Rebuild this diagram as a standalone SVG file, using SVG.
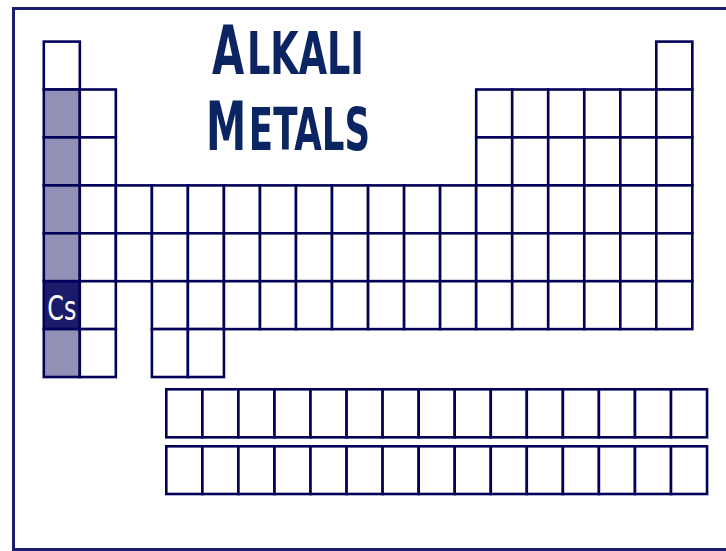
<svg xmlns="http://www.w3.org/2000/svg" width="726" height="551" viewBox="0 0 726 551">
<style>
.c{fill:#fff;stroke:#02025a;stroke-width:2.6}
.k{fill:#9191b5}
.cs{fill:#1b1b6b}
.t{font-family:"DejaVu Sans Condensed","DejaVu Sans",sans-serif;font-weight:bold;fill:#0b2462}
.sym{font-family:"DejaVu Sans Condensed","Liberation Sans",sans-serif;fill:#fff;font-size:34px}
</style>
<rect x="13.5" y="8.5" width="724" height="541" fill="#fff" stroke="#1c1c70" stroke-width="3"/>
<g id="title">
<text class="t" transform="translate(212,74) scale(0.69,1)"><tspan font-size="67">A</tspan><tspan font-size="59" dx="4">LKALI</tspan></text>
<text class="t" transform="translate(206,150) scale(0.67,1)"><tspan font-size="67">M</tspan><tspan font-size="59" dx="4">ETALS</tspan></text>
</g>
<g id="row1">
<g id="H"><rect class="c" x="43.8" y="41.6" width="36.03" height="47.92"/></g>
<g id="He"><rect class="c" x="656.3" y="41.6" width="36.03" height="47.92"/></g>
</g>
<g id="row2">
<g id="Li"><rect class="c k" x="43.8" y="89.5" width="36.03" height="47.92"/></g>
<g id="Be"><rect class="c" x="79.8" y="89.5" width="36.03" height="47.92"/></g>
<g id="B"><rect class="c" x="476.2" y="89.5" width="36.03" height="47.92"/></g>
<g id="C"><rect class="c" x="512.2" y="89.5" width="36.03" height="47.92"/></g>
<g id="N"><rect class="c" x="548.2" y="89.5" width="36.03" height="47.92"/></g>
<g id="O"><rect class="c" x="584.3" y="89.5" width="36.03" height="47.92"/></g>
<g id="F"><rect class="c" x="620.3" y="89.5" width="36.03" height="47.92"/></g>
<g id="Ne"><rect class="c" x="656.3" y="89.5" width="36.03" height="47.92"/></g>
</g>
<g id="row3">
<g id="Na"><rect class="c k" x="43.8" y="137.4" width="36.03" height="47.92"/></g>
<g id="Mg"><rect class="c" x="79.8" y="137.4" width="36.03" height="47.92"/></g>
<g id="Al"><rect class="c" x="476.2" y="137.4" width="36.03" height="47.92"/></g>
<g id="Si"><rect class="c" x="512.2" y="137.4" width="36.03" height="47.92"/></g>
<g id="P"><rect class="c" x="548.2" y="137.4" width="36.03" height="47.92"/></g>
<g id="S"><rect class="c" x="584.3" y="137.4" width="36.03" height="47.92"/></g>
<g id="Cl"><rect class="c" x="620.3" y="137.4" width="36.03" height="47.92"/></g>
<g id="Ar"><rect class="c" x="656.3" y="137.4" width="36.03" height="47.92"/></g>
</g>
<g id="row4">
<g id="K"><rect class="c k" x="43.8" y="185.4" width="36.03" height="47.92"/></g>
<g id="Ca"><rect class="c" x="79.8" y="185.4" width="36.03" height="47.92"/></g>
<g id="Sc"><rect class="c" x="115.9" y="185.4" width="36.03" height="47.92"/></g>
<g id="Ti"><rect class="c" x="151.9" y="185.4" width="36.03" height="47.92"/></g>
<g id="V"><rect class="c" x="187.9" y="185.4" width="36.03" height="47.92"/></g>
<g id="Cr"><rect class="c" x="223.95" y="185.4" width="36.03" height="47.92"/></g>
<g id="Mn"><rect class="c" x="260" y="185.4" width="36.03" height="47.92"/></g>
<g id="Fe"><rect class="c" x="296" y="185.4" width="36.03" height="47.92"/></g>
<g id="Co"><rect class="c" x="332" y="185.4" width="36.03" height="47.92"/></g>
<g id="Ni"><rect class="c" x="368.1" y="185.4" width="36.03" height="47.92"/></g>
<g id="Cu"><rect class="c" x="404.1" y="185.4" width="36.03" height="47.92"/></g>
<g id="Zn"><rect class="c" x="440.1" y="185.4" width="36.03" height="47.92"/></g>
<g id="Ga"><rect class="c" x="476.2" y="185.4" width="36.03" height="47.92"/></g>
<g id="Ge"><rect class="c" x="512.2" y="185.4" width="36.03" height="47.92"/></g>
<g id="As"><rect class="c" x="548.2" y="185.4" width="36.03" height="47.92"/></g>
<g id="Se"><rect class="c" x="584.3" y="185.4" width="36.03" height="47.92"/></g>
<g id="Br"><rect class="c" x="620.3" y="185.4" width="36.03" height="47.92"/></g>
<g id="Kr"><rect class="c" x="656.3" y="185.4" width="36.03" height="47.92"/></g>
</g>
<g id="row5">
<g id="Rb"><rect class="c k" x="43.8" y="233.3" width="36.03" height="47.92"/></g>
<g id="Sr"><rect class="c" x="79.8" y="233.3" width="36.03" height="47.92"/></g>
<g id="Y"><rect class="c" x="115.9" y="233.3" width="36.03" height="47.92"/></g>
<g id="Zr"><rect class="c" x="151.9" y="233.3" width="36.03" height="47.92"/></g>
<g id="Nb"><rect class="c" x="187.9" y="233.3" width="36.03" height="47.92"/></g>
<g id="Mo"><rect class="c" x="223.95" y="233.3" width="36.03" height="47.92"/></g>
<g id="Tc"><rect class="c" x="260" y="233.3" width="36.03" height="47.92"/></g>
<g id="Ru"><rect class="c" x="296" y="233.3" width="36.03" height="47.92"/></g>
<g id="Rh"><rect class="c" x="332" y="233.3" width="36.03" height="47.92"/></g>
<g id="Pd"><rect class="c" x="368.1" y="233.3" width="36.03" height="47.92"/></g>
<g id="Ag"><rect class="c" x="404.1" y="233.3" width="36.03" height="47.92"/></g>
<g id="Cd"><rect class="c" x="440.1" y="233.3" width="36.03" height="47.92"/></g>
<g id="In"><rect class="c" x="476.2" y="233.3" width="36.03" height="47.92"/></g>
<g id="Sn"><rect class="c" x="512.2" y="233.3" width="36.03" height="47.92"/></g>
<g id="Sb"><rect class="c" x="548.2" y="233.3" width="36.03" height="47.92"/></g>
<g id="Te"><rect class="c" x="584.3" y="233.3" width="36.03" height="47.92"/></g>
<g id="I"><rect class="c" x="620.3" y="233.3" width="36.03" height="47.92"/></g>
<g id="Xe"><rect class="c" x="656.3" y="233.3" width="36.03" height="47.92"/></g>
</g>
<g id="row6">
<g id="Cs"><rect class="c cs" x="43.8" y="281.2" width="36.03" height="47.92"/><text class="sym" x="61.8" y="320" text-anchor="middle" textLength="29" lengthAdjust="spacingAndGlyphs">Cs</text></g>
<g id="Ba"><rect class="c" x="79.8" y="281.2" width="36.03" height="47.92"/></g>
<g id="Hf"><rect class="c" x="151.9" y="281.2" width="36.03" height="47.92"/></g>
<g id="Ta"><rect class="c" x="187.9" y="281.2" width="36.03" height="47.92"/></g>
<g id="W"><rect class="c" x="223.95" y="281.2" width="36.03" height="47.92"/></g>
<g id="Re"><rect class="c" x="260" y="281.2" width="36.03" height="47.92"/></g>
<g id="Os"><rect class="c" x="296" y="281.2" width="36.03" height="47.92"/></g>
<g id="Ir"><rect class="c" x="332" y="281.2" width="36.03" height="47.92"/></g>
<g id="Pt"><rect class="c" x="368.1" y="281.2" width="36.03" height="47.92"/></g>
<g id="Au"><rect class="c" x="404.1" y="281.2" width="36.03" height="47.92"/></g>
<g id="Hg"><rect class="c" x="440.1" y="281.2" width="36.03" height="47.92"/></g>
<g id="Tl"><rect class="c" x="476.2" y="281.2" width="36.03" height="47.92"/></g>
<g id="Pb"><rect class="c" x="512.2" y="281.2" width="36.03" height="47.92"/></g>
<g id="Bi"><rect class="c" x="548.2" y="281.2" width="36.03" height="47.92"/></g>
<g id="Po"><rect class="c" x="584.3" y="281.2" width="36.03" height="47.92"/></g>
<g id="At"><rect class="c" x="620.3" y="281.2" width="36.03" height="47.92"/></g>
<g id="Rn"><rect class="c" x="656.3" y="281.2" width="36.03" height="47.92"/></g>
</g>
<g id="row7">
<g id="Fr"><rect class="c k" x="43.8" y="329.1" width="36.03" height="47.92"/></g>
<g id="Ra"><rect class="c" x="79.8" y="329.1" width="36.03" height="47.92"/></g>
<g id="Rf"><rect class="c" x="151.9" y="329.1" width="36.03" height="47.92"/></g>
<g id="Db"><rect class="c" x="187.9" y="329.1" width="36.03" height="47.92"/></g>
</g>
<g id="lanthanides">
<g id="La"><rect class="c" x="166.3" y="389.3" width="36.05" height="48"/></g>
<g id="Ce"><rect class="c" x="202.4" y="389.3" width="36.05" height="48"/></g>
<g id="Pr"><rect class="c" x="238.4" y="389.3" width="36.05" height="48"/></g>
<g id="Nd"><rect class="c" x="274.5" y="389.3" width="36.05" height="48"/></g>
<g id="Pm"><rect class="c" x="310.5" y="389.3" width="36.05" height="48"/></g>
<g id="Sm"><rect class="c" x="346.6" y="389.3" width="36.05" height="48"/></g>
<g id="Eu"><rect class="c" x="382.6" y="389.3" width="36.05" height="48"/></g>
<g id="Gd"><rect class="c" x="418.7" y="389.3" width="36.05" height="48"/></g>
<g id="Tb"><rect class="c" x="454.7" y="389.3" width="36.05" height="48"/></g>
<g id="Dy"><rect class="c" x="490.8" y="389.3" width="36.05" height="48"/></g>
<g id="Ho"><rect class="c" x="526.8" y="389.3" width="36.05" height="48"/></g>
<g id="Er"><rect class="c" x="562.9" y="389.3" width="36.05" height="48"/></g>
<g id="Tm"><rect class="c" x="598.9" y="389.3" width="36.05" height="48"/></g>
<g id="Yb"><rect class="c" x="635" y="389.3" width="36.05" height="48"/></g>
<g id="Lu"><rect class="c" x="671" y="389.3" width="36.05" height="48"/></g>
</g>
<g id="actinides">
<g id="Ac"><rect class="c" x="166.3" y="446.3" width="36.05" height="47.7"/></g>
<g id="Th"><rect class="c" x="202.4" y="446.3" width="36.05" height="47.7"/></g>
<g id="Pa"><rect class="c" x="238.4" y="446.3" width="36.05" height="47.7"/></g>
<g id="U"><rect class="c" x="274.5" y="446.3" width="36.05" height="47.7"/></g>
<g id="Np"><rect class="c" x="310.5" y="446.3" width="36.05" height="47.7"/></g>
<g id="Pu"><rect class="c" x="346.6" y="446.3" width="36.05" height="47.7"/></g>
<g id="Am"><rect class="c" x="382.6" y="446.3" width="36.05" height="47.7"/></g>
<g id="Cm"><rect class="c" x="418.7" y="446.3" width="36.05" height="47.7"/></g>
<g id="Bk"><rect class="c" x="454.7" y="446.3" width="36.05" height="47.7"/></g>
<g id="Cf"><rect class="c" x="490.8" y="446.3" width="36.05" height="47.7"/></g>
<g id="Es"><rect class="c" x="526.8" y="446.3" width="36.05" height="47.7"/></g>
<g id="Fm"><rect class="c" x="562.9" y="446.3" width="36.05" height="47.7"/></g>
<g id="Md"><rect class="c" x="598.9" y="446.3" width="36.05" height="47.7"/></g>
<g id="No"><rect class="c" x="635" y="446.3" width="36.05" height="47.7"/></g>
<g id="Lr"><rect class="c" x="671" y="446.3" width="36.05" height="47.7"/></g>
</g>
<g id="connectors"/>
</svg>
